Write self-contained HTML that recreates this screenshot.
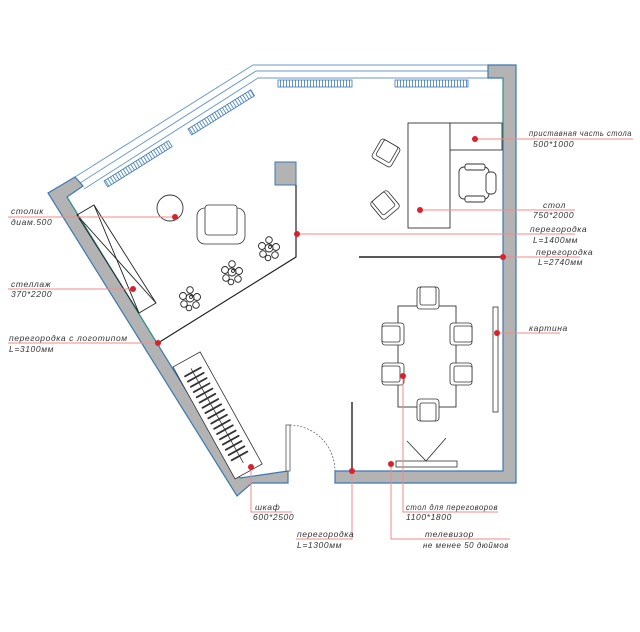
<!DOCTYPE html>
<html><head><meta charset="utf-8"><style>
html,body{margin:0;padding:0;background:#fff}
svg{display:block}
text{font-family:"Liberation Sans",sans-serif;font-style:italic;font-size:8.5px;fill:#333;letter-spacing:0.6px}
</style></head><body>
<svg width="640" height="632" viewBox="0 0 640 632" xmlns="http://www.w3.org/2000/svg">
<defs>
<pattern id="rad" width="3" height="8" patternUnits="userSpaceOnUse"><rect width="3" height="8" fill="#fff"/><line x1="1.5" y1="0" x2="1.5" y2="8" stroke="#3a78b5" stroke-width="0.8"/></pattern>
<g id="plant" fill="#fff" stroke="#222" stroke-width="0.9">
<circle cx="0" cy="-8" r="3.3"/><circle cx="-7" cy="-2" r="3.5"/><circle cx="7" cy="-1" r="3.5"/><circle cx="-6" cy="6" r="3.3"/><circle cx="6" cy="7" r="3.3"/><circle cx="0" cy="0" r="4"/><circle cx="-1" cy="10" r="2.8"/><circle cx="1" cy="-1" r="1.5"/>
</g>
<g id="chair" fill="#fff" stroke="#333" stroke-width="0.8">
<rect x="-11" y="-11" width="22" height="22" rx="3"/><rect x="-8" y="-11" width="16" height="18" rx="2"/>
</g>
</defs>

<g fill="none" stroke="#6b9bc8" stroke-width="1">
<polyline points="75,177 253,65 488,65"/>
<polyline points="80,183 256,71 488,71"/>
<polyline points="84,189 258,78 488,78"/>
</g>
<g stroke="#3a78b5" stroke-width="0.8">
<rect x="278" y="80" width="74" height="7" fill="url(#rad)"/>
<rect x="395" y="80" width="73" height="7" fill="url(#rad)"/>
<rect x="0" y="0" width="76" height="7" fill="url(#rad)" transform="translate(104,181) rotate(-32)"/>
<rect x="0" y="0" width="74" height="7" fill="url(#rad)" transform="translate(188,129) rotate(-32)"/>
</g>

<polygon points="48,193 75,177 83,186 67,197 240,478 288,471 288,483 252,483 237,496" fill="#b3b3b3" stroke="#3a78b5" stroke-width="1.2"/>
<polygon points="488,65 516,65 516,483 335,483 335,471 503,471 503,78 488,78" fill="#b3b3b3" stroke="#3a78b5" stroke-width="1.2"/>
<line x1="67" y1="197" x2="158" y2="345" stroke="#2a9a7a" stroke-width="1"/>
<line x1="503" y1="78" x2="503" y2="140" stroke="#2a9a7a" stroke-width="1"/>

<rect x="275" y="162" width="21" height="23" fill="#b3b3b3" stroke="#3a78b5" stroke-width="1"/>
<polyline points="296,185 296,257 158,343" fill="none" stroke="#222" stroke-width="1.2"/>
<line x1="359" y1="257" x2="503" y2="257" stroke="#222" stroke-width="1.5"/>
<line x1="352" y1="402" x2="352" y2="471" stroke="#333" stroke-width="1.5"/>

<rect x="286" y="425" width="4" height="46" fill="#fff" stroke="#555" stroke-width="0.8"/>
<path d="M290,425 A46,46 0 0 1 335,471" fill="none" stroke="#555" stroke-width="0.7" stroke-dasharray="2,1.5"/>

<circle cx="170" cy="208" r="13" fill="none" stroke="#333" stroke-width="0.9"/>
<g fill="#fff" stroke="#333" stroke-width="0.8">
<rect x="197" y="208" width="48" height="36" rx="8"/>
<rect x="205" y="205" width="32" height="30" rx="3"/>
</g>
<g fill="none" stroke="#222" stroke-width="0.9">
<polygon points="77,215 94,205 156,303 139,313"/>
<line x1="77" y1="215" x2="156" y2="303"/><line x1="94" y1="205" x2="139" y2="313"/>
</g>
<use href="#plant" x="190" y="298"/><use href="#plant" x="232" y="272"/><use href="#plant" x="269" y="248"/>

<g transform="translate(173,367) rotate(-29)">
<rect x="0" y="0" width="31" height="128" fill="#fff" stroke="#333" stroke-width="0.8"/>
<line x1="15" y1="10" x2="15" y2="118" stroke="#333" stroke-width="0.8"/>
<g stroke="#333" stroke-width="1.8" stroke-linecap="round">
<line x1="6" y1="14" x2="24" y2="14"/><line x1="6" y1="20" x2="24" y2="20"/><line x1="6" y1="26" x2="24" y2="26"/><line x1="6" y1="32" x2="24" y2="32"/><line x1="6" y1="38" x2="24" y2="38"/><line x1="6" y1="44" x2="24" y2="44"/><line x1="6" y1="50" x2="24" y2="50"/><line x1="6" y1="56" x2="24" y2="56"/><line x1="6" y1="62" x2="24" y2="62"/><line x1="6" y1="68" x2="24" y2="68"/><line x1="6" y1="74" x2="24" y2="74"/><line x1="6" y1="80" x2="24" y2="80"/><line x1="6" y1="86" x2="24" y2="86"/><line x1="6" y1="92" x2="24" y2="92"/><line x1="6" y1="98" x2="24" y2="98"/><line x1="6" y1="104" x2="24" y2="104"/><line x1="6" y1="110" x2="24" y2="110"/>
</g>
</g>

<g fill="#fff" stroke="#333" stroke-width="0.9">
<rect x="408" y="123" width="42" height="105"/>
<rect x="450" y="123" width="52" height="27"/>
<rect x="459" y="167" width="30" height="32" rx="5"/>
<rect x="486" y="172" width="10" height="22" rx="4"/>
<rect x="465" y="164" width="20" height="6" rx="2"/><rect x="465" y="196" width="20" height="6" rx="2"/>
</g>
<g transform="translate(386,153) rotate(30)"><use href="#chair"/></g>
<g transform="translate(385,205) rotate(-40)"><use href="#chair"/></g>

<rect x="398" y="306" width="58" height="101" fill="#fff" stroke="#333" stroke-width="0.9"/>
<use href="#chair" x="428" y="298"/>
<g transform="translate(428,410) rotate(180)"><use href="#chair"/></g>
<g transform="translate(393,334) rotate(-90)"><use href="#chair"/></g>
<g transform="translate(393,374) rotate(-90)"><use href="#chair"/></g>
<g transform="translate(461,334) rotate(90)"><use href="#chair"/></g>
<g transform="translate(461,374) rotate(90)"><use href="#chair"/></g>
<rect x="493" y="307" width="5" height="105" fill="#fff" stroke="#333" stroke-width="0.8"/>
<rect x="396" y="461" width="61" height="6" fill="#fff" stroke="#333" stroke-width="0.8"/>
<polyline points="407,441 426,461 446,438" fill="none" stroke="#333" stroke-width="0.9"/>

<g stroke="#f08a8a" stroke-width="1" fill="none">
<line x1="8" y1="217" x2="175" y2="217"/>
<line x1="8" y1="289" x2="133" y2="289"/>
<line x1="8" y1="343" x2="158" y2="343"/>
<line x1="475" y1="139" x2="633" y2="139"/>
<line x1="420" y1="210" x2="575" y2="210"/>
<line x1="297" y1="234" x2="575" y2="234"/>
<line x1="503" y1="257" x2="580" y2="257"/>
<line x1="497" y1="333" x2="560" y2="333"/>
<polyline points="251,467 251,512 292,512"/>
<polyline points="352,471 352,539 296,539"/>
<polyline points="403,376 403,512 498,512"/>
<polyline points="391,464 391,539 510,539"/>
</g>
<g fill="#d8222e">
<circle cx="175" cy="217" r="3"/><circle cx="133" cy="289" r="3"/><circle cx="158" cy="343" r="3"/>
<circle cx="475" cy="139" r="3"/><circle cx="420" cy="210" r="3"/><circle cx="297" cy="234" r="3"/>
<circle cx="503" cy="257" r="3"/><circle cx="497" cy="333" r="3"/><circle cx="251" cy="467" r="3"/>
<circle cx="352" cy="471" r="3"/><circle cx="403" cy="376" r="3"/><circle cx="391" cy="464" r="3"/>
</g>

<text x="11" y="214">столик</text><text x="11" y="225">диам.500</text>
<text x="11" y="287">стеллаж</text><text x="11" y="297">370*2200</text>
<text x="9" y="341">перегородка  с  логотипом</text><text x="9" y="352">L=3100мм</text>
<text x="529" y="136" textLength="103" lengthAdjust="spacingAndGlyphs">приставная  часть  стола</text><text x="533" y="147">500*1000</text>
<text x="543" y="208">стол</text><text x="533" y="218">750*2000</text>
<text x="530" y="232">перегородка</text><text x="533" y="243">L=1400мм</text>
<text x="536" y="255">перегородка</text><text x="538" y="265">L=2740мм</text>
<text x="529" y="331">картина</text>
<text x="255" y="510">шкаф</text><text x="253" y="520">600*2500</text>
<text x="297" y="537">перегородка</text><text x="297" y="548">L=1300мм</text>
<text x="406" y="510" textLength="92" lengthAdjust="spacingAndGlyphs">стол  для  переговоров</text><text x="406" y="520">1100*1800</text>
<text x="425" y="537">телевизор</text><text x="423" y="548" textLength="86" lengthAdjust="spacingAndGlyphs">не  менее  50  дюймов</text>
</svg>
</body></html>
